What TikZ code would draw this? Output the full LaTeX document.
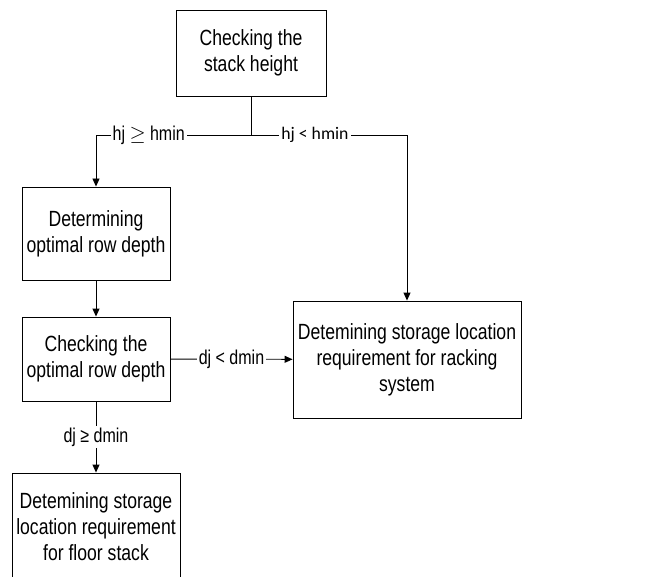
\documentclass[tikz,border=0pt]{standalone}
\usepackage{fontspec}
\usepackage{tikz}
\usetikzlibrary{arrows.meta}
\newfontfamily\boxfont[FakeStretch=0.8]{Liberation Sans}
\newfontfamily\calfont{Carlito}

\begin{document}
\begin{tikzpicture}[x=1pt,y=1pt]
	\useasboundingbox (0,0) rectangle (650,-577);
	\begin{scope}[every node/.style={draw,line width=0.9pt,align=center,inner sep=0pt,
				font=\boxfont\fontsize{22}{26}\selectfont}]
		% top: height check
		\node[minimum width=150,minimum height=86] (hchk) at (251,-53) {Checking the\\stack height};
		% left column
		\node[minimum width=148,minimum height=93] (rowdet) at (96,-233.5) {Determining\\optimal row depth};
		\node[minimum width=148,minimum height=84] (rowchk) at (96,-359) {Checking the\\optimal row depth};
		\node[minimum width=168,minimum height=108] (floor) at (96,-527) {Detemining storage\\location requirement\\for floor stack};
		% right column
		\node[minimum width=228,minimum height=117] (rack) at (407,-359.5) {Detemining storage location\\requirement for racking\\system};
	\end{scope}

	\coordinate (split) at (251,-135);
	\coordinate (hl) at (96,-135);
	\coordinate (hr) at (407,-135);

	\begin{scope}[>={Triangle[length=8pt,width=7pt]},line width=0.9pt,
				every node/.style={fill=white,inner sep=2pt,font=\boxfont\fontsize{20}{24}\selectfont}]
		\draw (hchk.south) -- (split);
		\draw [->] (split) -- node[pos=0.66] {hj $\geq$ hmin} (hl) -- (rowdet.north);
		\draw [->] (split) -- node[pos=0.41,font=\calfont\fontsize{17.7}{20}\selectfont] {hj < hmin} (hr) -- (rack.north);

		\draw [->] (rowdet) -- (rowchk);
		\draw [->] (rowchk) -- node {dj < dmin} (rack);
		\draw [->] (rowchk) -- node {dj ≥ dmin} (floor);
	\end{scope}
\end{tikzpicture}
\end{document}
